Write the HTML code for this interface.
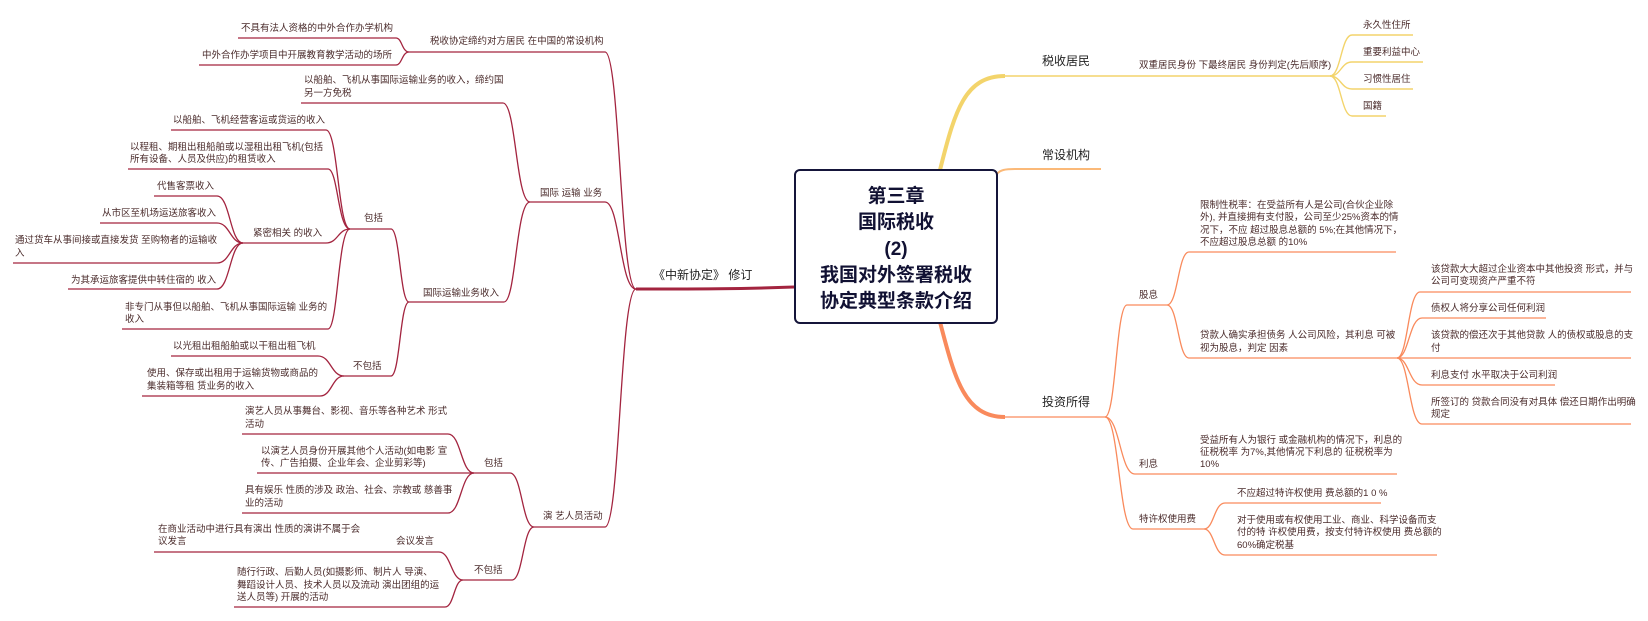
<!DOCTYPE html>
<html><head><meta charset="utf-8"><style>
html,body{margin:0;padding:0;background:#fff;}
svg{display:block;}
text{font-family:"Liberation Sans","Noto Sans CJK SC",sans-serif;}
.s{font-size:9.5px;fill:#4a2b2b;}
.m{font-size:12px;fill:#222;}
.lr path,.lr line{stroke:#a3243f;fill:none;stroke-width:1.3;}
.ly path,.ly line{stroke:#f3d46b;fill:none;stroke-width:1.4;}
.lc path,.lc line{stroke:#f98a5c;fill:none;stroke-width:1.3;}
</style></head><body>
<svg width="1648" height="621" viewBox="0 0 1648 621" xmlns="http://www.w3.org/2000/svg">
<!-- Left branch lines -->
<g class="lr">
<path d="M794 287 C740 289 700 289 636 289" style="stroke-width:3"/>
<path d="M636 289 C620 289 620 52 605 52"/>
<path d="M636 289 C620 289 620 202 605 202"/>
<path d="M636 289 C620 289 620 527 605 527"/>
<line x1="409" y1="52" x2="605" y2="52"/>
<line x1="530" y1="202" x2="605" y2="202"/>
<line x1="534" y1="527" x2="605" y2="527"/>
<path d="M409 52 C402 52 402 38 396 38"/>
<path d="M409 52 C402 52 402 65 396 65"/>
<line x1="238" y1="38" x2="396" y2="38"/>
<line x1="199" y1="65" x2="396" y2="65"/>
<path d="M530 202 C516 202 516 103 503 103"/>
<path d="M530 202 C516 202 516 302 504 302"/>
<line x1="301" y1="103" x2="503" y2="103"/>
<line x1="409" y1="302" x2="504" y2="302"/>
<path d="M409 302 C400 302 400 229 391 229"/>
<path d="M409 302 C400 302 400 376 391 376"/>
<line x1="350" y1="229" x2="391" y2="229"/>
<line x1="344" y1="376" x2="391" y2="376"/>
<path d="M350 229 C338 229 338 130 326 130"/>
<path d="M350 229 C338 229 338 169 328 169"/>
<path d="M350 229 C338 229 338 243 326 243"/>
<path d="M350 229 C338 229 338 329 328 329"/>
<line x1="171" y1="130" x2="326" y2="130"/>
<line x1="128" y1="169" x2="328" y2="169"/>
<line x1="243" y1="243" x2="326" y2="243"/>
<line x1="122" y1="329" x2="328" y2="329"/>
<path d="M243 243 C230 243 230 196 217 196"/>
<path d="M243 243 C230 243 230 223 217 223"/>
<path d="M243 243 C230 243 230 263 217 263"/>
<path d="M243 243 C230 243 230 289 217 289"/>
<line x1="154" y1="196" x2="217" y2="196"/>
<line x1="100" y1="223" x2="217" y2="223"/>
<line x1="13" y1="263" x2="217" y2="263"/>
<line x1="68" y1="289" x2="217" y2="289"/>
<path d="M344 376 C331 376 331 356 318 356"/>
<path d="M344 376 C332 376 332 396 320 396"/>
<line x1="171" y1="356" x2="318" y2="356"/>
<line x1="142" y1="396" x2="320" y2="396"/>
<path d="M534 527 C522 527 522 473 510 473"/>
<path d="M534 527 C523 527 523 580 512 580"/>
<line x1="474" y1="473" x2="510" y2="473"/>
<line x1="463" y1="580" x2="512" y2="580"/>
<path d="M474 473 C461 473 461 434 448 434"/>
<path d="M474 473 C461 473 461 513 448 513"/>
<line x1="242" y1="434" x2="448" y2="434"/>
<line x1="257" y1="473" x2="474" y2="473"/>
<line x1="242" y1="513" x2="448" y2="513"/>
<path d="M463 580 C451 580 451 552 439 552"/>
<path d="M463 580 C454 580 454 607 445 607"/>
<line x1="154" y1="552" x2="439" y2="552"/>
<line x1="234" y1="607" x2="445" y2="607"/>
</g>
<!-- Right yellow -->
<g class="ly">
<path d="M940 170 C955 110 965 76 1005 76" style="stroke-width:4"/>
<line x1="1003" y1="76" x2="1330" y2="76"/>
<path d="M1330 76 C1341 76 1341 35 1352 35"/>
<path d="M1330 76 C1341 76 1341 62 1352 62"/>
<path d="M1330 76 C1341 76 1341 89 1352 89"/>
<path d="M1330 76 C1341 76 1341 116 1352 116"/>
<line x1="1352" y1="35" x2="1413" y2="35"/>
<line x1="1352" y1="62" x2="1423" y2="62"/>
<line x1="1352" y1="89" x2="1413" y2="89"/>
<line x1="1352" y1="116" x2="1386" y2="116"/>
</g>
<path d="M997 174 C1000 170 1005 169 1015 169 L1101 169" stroke="#fbb978" stroke-width="2" fill="none"/>
<!-- Right coral -->
<g class="lc">
<path d="M940 322 C955 380 965 417 1005 417" style="stroke-width:4"/>
<line x1="1003" y1="417" x2="1105" y2="417"/>
<path d="M1105 417 C1116 417 1116 305 1127 305"/>
<path d="M1105 417 C1120 417 1120 474 1135 474"/>
<path d="M1105 417 C1119 417 1119 529 1133 529"/>
<line x1="1127" y1="305" x2="1167" y2="305"/>
<line x1="1135" y1="474" x2="1397" y2="474"/>
<line x1="1133" y1="529" x2="1204" y2="529"/>
<path d="M1167 305 C1178 305 1178 252 1189 252"/>
<path d="M1167 305 C1178 305 1178 358 1189 358"/>
<line x1="1189" y1="252" x2="1396" y2="252"/>
<line x1="1189" y1="358" x2="1631" y2="358"/>
<path d="M1397 358 C1408 358 1408 292 1420 292"/>
<path d="M1397 358 C1409 358 1409 318 1422 318"/>
<path d="M1397 358 C1409 358 1409 385 1422 385"/>
<path d="M1397 358 C1409 358 1409 424 1422 424"/>
<line x1="1420" y1="292" x2="1631" y2="292"/>
<line x1="1422" y1="318" x2="1546" y2="318"/>
<line x1="1422" y1="385" x2="1555" y2="385"/>
<line x1="1422" y1="424" x2="1631" y2="424"/>
<path d="M1204 529 C1214 529 1214 503 1225 503"/>
<path d="M1204 529 C1214 529 1214 555 1225 555"/>
<line x1="1225" y1="503" x2="1381" y2="503"/>
<line x1="1225" y1="555" x2="1437" y2="555"/>
</g>
<!-- Center box -->
<rect x="795" y="170" width="202" height="153" rx="5" fill="#fff" stroke="#15153a" stroke-width="2"/>
<g font-size="19" font-weight="bold" fill="#111133" text-anchor="middle" style="font-family:'Liberation Sans','Noto Sans CJK SC',sans-serif">
<text x="896" y="202">第三章</text>
<text x="896" y="228">国际税收</text>
<text x="896" y="255">(2)</text>
<text x="896" y="281">我国对外签署税收</text>
<text x="896" y="307">协定典型条款介绍</text>
</g>
<text class="m" x="653" y="279">《中新协定》 修订</text>
<text class="m" x="1042" y="65">税收居民</text>
<text class="m" x="1042" y="159">常设机构</text>
<text class="m" x="1042" y="406">投资所得</text>
<!-- Left text -->
<g class="s">
<text x="241" y="31">不具有法人资格的中外合作办学机构</text>
<text x="202" y="58">中外合作办学项目中开展教育教学活动的场所</text>
<text x="430" y="44">税收协定缔约对方居民 在中国的常设机构</text>
<text x="304" y="83">以船舶、飞机从事国际运输业务的收入，缔约国</text>
<text x="304" y="96">另一方免税</text>
<text x="540" y="196">国际 运输 业务</text>
<text x="173" y="123">以船舶、飞机经营客运或货运的收入</text>
<text x="130" y="150">以程租、期租出租船舶或以湿租出租飞机(包括</text>
<text x="130" y="162">所有设备、人员及供应)的租赁收入</text>
<text x="157" y="189">代售客票收入</text>
<text x="102" y="216">从市区至机场运送旅客收入</text>
<text x="15" y="243">通过货车从事间接或直接发货 至购物者的运输收</text>
<text x="15" y="256">入</text>
<text x="71" y="283">为其承运旅客提供中转住宿的 收入</text>
<text x="253" y="236">紧密相关 的收入</text>
<text x="364" y="221">包括</text>
<text x="125" y="310">非专门从事但以船舶、飞机从事国际运输 业务的</text>
<text x="125" y="322">收入</text>
<text x="423" y="296">国际运输业务收入</text>
<text x="173" y="349">以光租出租船舶或以干租出租飞机</text>
<text x="147" y="376">使用、保存或出租用于运输货物或商品的</text>
<text x="147" y="389">集装箱等租 赁业务的收入</text>
<text x="353" y="369">不包括</text>
<text x="245" y="414">演艺人员从事舞台、影视、音乐等各种艺术 形式</text>
<text x="245" y="427">活动</text>
<text x="261" y="454">以演艺人员身份开展其他个人活动(如电影 宣</text>
<text x="261" y="466">传、广告拍摄、企业年会、企业剪彩等)</text>
<text x="245" y="493">具有娱乐 性质的涉及 政治、社会、宗教或 慈善事</text>
<text x="245" y="506">业的活动</text>
<text x="484" y="466">包括</text>
<text x="543" y="519">演 艺人员活动</text>
<text x="158" y="532">在商业活动中进行具有演出 性质的演讲不属于会</text>
<text x="158" y="544">议发言</text>
<text x="396" y="544">会议发言</text>
<text x="237" y="575">随行行政、后勤人员(如摄影师、制片人 导演、</text>
<text x="237" y="588">舞蹈设计人员、技术人员以及流动 演出团组的运</text>
<text x="237" y="600">送人员等) 开展的活动</text>
<text x="474" y="573">不包括</text>
</g>
<!-- Right text -->
<g class="s">
<text x="1139" y="68">双重居民身份 下最终居民 身份判定(先后顺序)</text>
<text x="1363" y="28">永久性住所</text>
<text x="1363" y="55">重要利益中心</text>
<text x="1363" y="82">习惯性居住</text>
<text x="1363" y="109">国籍</text>
<text x="1200" y="208">限制性税率：在受益所有人是公司(合伙企业除</text>
<text x="1200" y="220">外), 并直接拥有支付股，公司至少25%资本的情</text>
<text x="1200" y="233">况下，不应 超过股息总额的 5%;在其他情况下，</text>
<text x="1200" y="245">不应超过股息总额 的10%</text>
<text x="1139" y="298">股息</text>
<text x="1431" y="272">该贷款大大超过企业资本中其他投资 形式，并与</text>
<text x="1431" y="284">公司可变现资产严重不符</text>
<text x="1431" y="311">债权人将分享公司任何利润</text>
<text x="1200" y="338">贷款人确实承担债务 人公司风险，其利息 可被</text>
<text x="1200" y="351">视为股息，判定 因素</text>
<text x="1431" y="338">该贷款的偿还次于其他贷款 人的债权或股息的支</text>
<text x="1431" y="351">付</text>
<text x="1431" y="378">利息支付 水平取决于公司利润</text>
<text x="1431" y="405">所签订的 贷款合同没有对具体 偿还日期作出明确</text>
<text x="1431" y="417">规定</text>
<text x="1200" y="443">受益所有人为银行 或金融机构的情况下，利息的</text>
<text x="1200" y="455">征税税率 为7%,其他情况下利息的 征税税率为</text>
<text x="1200" y="467">10%</text>
<text x="1139" y="467">利息</text>
<text x="1237" y="496">不应超过特许权使用 费总额的1 0 %</text>
<text x="1237" y="523">对于使用或有权使用工业、商业、科学设备而支</text>
<text x="1237" y="535">付的特 许权使用费，按支付特许权使用 费总额的</text>
<text x="1237" y="548">60%确定税基</text>
<text x="1139" y="522">特许权使用费</text>
</g>
</svg>
</body></html>
